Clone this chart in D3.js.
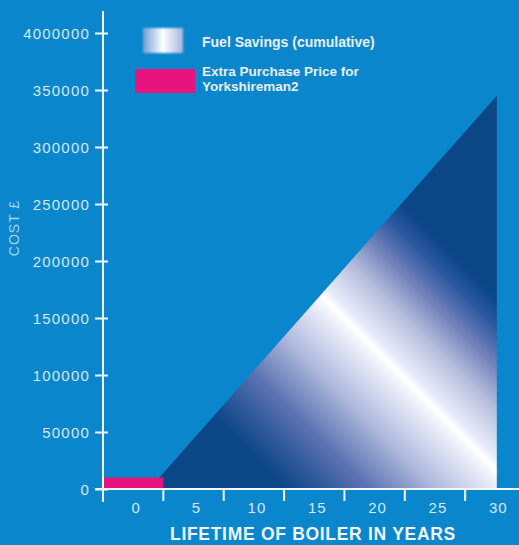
<!DOCTYPE html>
<html><head><meta charset="utf-8">
<script src="https://cdn.jsdelivr.net/npm/d3@7"></script>
<style>html,body{margin:0;padding:0;background:#0a86cc;overflow:hidden}</style>
</head><body>
<script>
// ---- data ----
const years = ["0","5","10","15","20","25","30"];
const costTicks = [0,50000,100000,150000,200000,250000,300000,350000,400000];
const costTickLabels = ["0","50000","100000","150000","200000","250000","300000","350000","4000000"];
const savingsYears = [1.2, 30, 30];
const savingsValues = [0, 345000, 0];
const extraPriceCategory = "0";
const extraPriceValue = 10000;
const legendLabels = ["Fuel Savings (cumulative)", ["Extra Purchase Price for","Yorkshireman2"]];

// ---- setup ----
const W = 519, H = 545;
const bg = "#0a86cc", navy = "#0b4687", pink = "#e8137f", axisCol = "#f4f8fc", tickTxt = "#d6e9f6";
const svg = d3.select("body").append("svg").attr("width", W).attr("height", H);
svg.append("rect").attr("width", W).attr("height", H).attr("fill", bg);

const x = d3.scaleBand().domain(years).range([103, 525.5]).padding(0);
const xYear = d3.scaleLinear().domain([0,30]).range([x("0")+x.bandwidth()/2+1.5, x("30")+x.bandwidth()/2+1.5]);
const y = d3.scaleLinear().domain([0,400000]).range([489, 33]);

const defs = svg.append("defs");
// triangle gradient (diagonal)
const cx = xYear(30), cy = y(0);
const g = defs.append("linearGradient").attr("id","sav").attr("gradientUnits","userSpaceOnUse")
  .attr("x1", cx-180).attr("y1", cy+180).attr("x2", cx+200).attr("y2", cy-200);
[[-210,navy],[-130,"#5870b0"],[-55,"#b4bde0"],[5,"#eef0fa"],[18,"#ffffff"],[32,"#e6eaf7"],[80,"#b4bcdd"],[120,"#7484bb"],[160,"#2f58a0"],[190,navy]]
  .forEach(([k,c]) => g.append("stop").attr("offset", (k+360)/760).attr("stop-color", c));
// legend swatch gradient
const lg = defs.append("linearGradient").attr("id","leg").attr("x1",0).attr("x2",1).attr("y1",0).attr("y2",0);
[[0,"#6f9fd8"],[0.5,"#ffffff"],[1,"#a6b4e2"]].forEach(([o,c]) => lg.append("stop").attr("offset",o).attr("stop-color",c));
defs.append("filter").attr("id","blur").attr("x","-20%").attr("y","-20%").attr("width","140%").attr("height","140%")
  .append("feGaussianBlur").attr("stdDeviation",1.2);

// savings triangle
const pts = savingsYears.map((yr,i) => [xYear(yr), y(savingsValues[i])]);
svg.append("path").attr("d", d3.line()(pts) + "Z").attr("fill","url(#sav)");

// extra purchase price bar
svg.append("rect").attr("x", x(extraPriceCategory)).attr("width", x.bandwidth())
  .attr("y", y(extraPriceValue)).attr("height", y(0)-y(extraPriceValue)).attr("fill", pink);

// ---- axes ----
const font = "'Liberation Sans', Arial, Helvetica, sans-serif";
// y axis
const yAxis = svg.append("g").attr("transform", `translate(${x.range()[0]},0)`)
  .call(d3.axisLeft(y).tickValues(costTicks).tickFormat((d,i)=>costTickLabels[i]).tickSize(0).tickPadding(13));
yAxis.select(".domain").remove();
yAxis.append("line").attr("x1",0).attr("x2",0).attr("y1",11).attr("y2",502).attr("stroke",axisCol).attr("stroke-width",2);
yAxis.selectAll(".tick line").remove();
yAxis.selectAll(".tick").append("line").attr("x1",-8).attr("x2",5).attr("stroke",axisCol).attr("stroke-width",2);
yAxis.selectAll(".tick text").attr("fill",tickTxt).attr("font-family",font).attr("font-size",15).attr("letter-spacing",1.2).attr("dy","0.36em");

// x axis
const xAxis = svg.append("g").attr("transform", `translate(0,${y(0)})`)
  .call(d3.axisBottom(x).tickSize(0).tickPadding(13));
xAxis.select(".domain").remove();
xAxis.append("line").attr("x1",95).attr("x2",W).attr("y1",0).attr("y2",0).attr("stroke",axisCol).attr("stroke-width",2);
xAxis.selectAll(".tick text").attr("fill",tickTxt).attr("font-family",font).attr("font-size",15).attr("letter-spacing",1).attr("dx",3);
xAxis.selectAll(".tick").filter(d => d !== years[0]).append("line")
  .attr("x1",-x.bandwidth()/2).attr("x2",-x.bandwidth()/2).attr("y1",0).attr("y2",12).attr("stroke",axisCol).attr("stroke-width",2);

// axis titles
svg.append("text").attr("x",170).attr("y",540).attr("fill","#f2f6fb").attr("font-family",font)
  .attr("font-weight","bold").attr("font-size",17.5).attr("letter-spacing",0.7).text("LIFETIME OF BOILER IN YEARS");
svg.append("text").attr("transform","translate(19,228) rotate(-90)").attr("text-anchor","middle")
  .attr("fill","#a9d2ee").attr("font-family",font).attr("font-size",14).attr("letter-spacing",1).text("COST £");

// ---- legend ----
svg.append("rect").attr("x",143).attr("y",28).attr("width",40).attr("height",25).attr("fill","url(#leg)").attr("filter","url(#blur)");
svg.append("rect").attr("x",135).attr("y",69).attr("width",60).attr("height",24).attr("fill",pink);
svg.append("text").attr("x",202).attr("y",47).attr("fill","#e9f0f9").attr("font-family",font)
  .attr("font-weight","bold").attr("font-size",14).text(legendLabels[0]);
const t2 = svg.append("text").attr("x",202).attr("y",76).attr("fill","#e9f0f9").attr("font-family",font)
  .attr("font-weight","bold").attr("font-size",13.5);
legendLabels[1].forEach((s,i) => t2.append("tspan").attr("x",202).attr("dy", i ? 15 : 0).text(s));
</script>
</body></html>
